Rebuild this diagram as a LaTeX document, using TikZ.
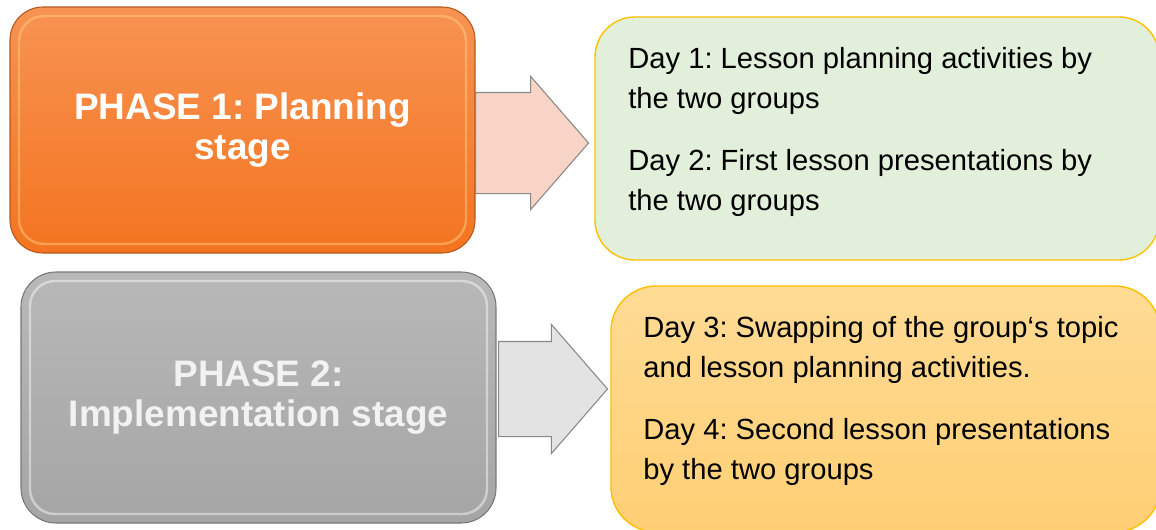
\documentclass[tikz,border=0pt]{standalone}
\usepackage{fontspec}
\setmainfont{Liberation Sans}
\frenchspacing
\usetikzlibrary{shapes.arrows}
\definecolor{phaseorangetop}{HTML}{F89352}
\definecolor{phaseorangebot}{HTML}{F37420}
\definecolor{phaseorangeline}{HTML}{B5581C}
\definecolor{phaseorangelight}{HTML}{FFD58A}
\definecolor{phasegraytop}{HTML}{B8B8B8}
\definecolor{phasegraybot}{HTML}{A5A5A5}
\definecolor{phasegrayline}{HTML}{777777}
\definecolor{daygreen}{HTML}{E2EFDA}
\definecolor{dayyellowtop}{HTML}{FFDB95}
\definecolor{dayyellowbot}{HTML}{FFCF74}
\definecolor{dayborder}{HTML}{FFC000}
\definecolor{arrowpink}{HTML}{F8D4C7}
\definecolor{arrowgray}{HTML}{E3E3E3}
\definecolor{arrowline}{HTML}{888888}
\tikzset{
  phasebox/.style={rectangle, inner sep=0pt, line width=0.6pt, align=center,
    font=\bfseries\fontsize{21}{22.6}\selectfont},
  bevel/.style={path picture={
    \draw[#1, line width=1.4pt, opacity=0.45, rounded corners=0.5cm]
      ([shift={(0.18,-0.18)}]path picture bounding box.north west) rectangle
      ([shift={(-0.18,0.18)}]path picture bounding box.south east);}},
  daybox/.style={rectangle, draw=dayborder, line width=0.8pt, inner sep=0pt},
  daytext/.style={anchor=north west, inner sep=0pt, align=left,
    font=\fontsize{16.6}{22.8}\selectfont},
  blockarrow/.style={single arrow, draw=arrowline, line width=0.6pt, inner xsep=0pt,
    single arrow tip angle=98, anchor=tail}
}
\begin{document}
\begin{tikzpicture}
                \clip (0,0) rectangle (23.12,10.58);
                \node[phasebox, rounded corners=0.66cm, minimum width=9.3cm, minimum height=4.92cm,
                  top color=phaseorangetop, bottom color=phaseorangebot, draw=phaseorangeline,
                  bevel=phaseorangelight, text=white] (phaseone) at (4.85,7.98) {PHASE 1: Planning\\stage};
                \node[phasebox, rounded corners=0.7cm, minimum width=9.5cm, minimum height=5.02cm,
                  top color=phasegraytop, bottom color=phasegraybot, draw=phasegrayline,
                  bevel=white, text=white!95!black] (phasetwo) at (5.17,2.63) {PHASE 2:\\Implementation stage};
                \node[daybox, rounded corners=0.8cm, minimum width=11.28cm, minimum height=4.86cm,
                  fill=daygreen] (dayboxa) at (17.54,7.81) {};
                \node[daybox, rounded corners=0.9cm, minimum width=10.98cm, minimum height=4.92cm,
                  top color=dayyellowtop, bottom color=dayyellowbot] (dayboxb) at (17.71,2.4) {};
                \node[blockarrow, fill=arrowpink, minimum height=2.26cm, minimum width=2.64cm,
                  inner ysep=1cm, single arrow head extend=0.32cm] (arrowa) at (9.5,7.72) {};
                \node[blockarrow, fill=arrowgray, minimum height=2.18cm, minimum width=2.56cm,
                  inner ysep=0.94cm, single arrow head extend=0.34cm] (arrowb) at (9.96,2.8) {};
                \node[daytext] (daytexta) at (12.56,9.64) {Day 1: Lesson planning activities by\\the two groups\\[0.44cm]Day 2: First lesson presentations by\\the two groups};
                \node[daytext] (daytextb) at (12.86,4.26) {Day 3: Swapping of the group‘s topic\\and lesson planning activities.\\[0.44cm]Day 4: Second lesson presentations\\by the two groups};
\end{tikzpicture}
\end{document}
